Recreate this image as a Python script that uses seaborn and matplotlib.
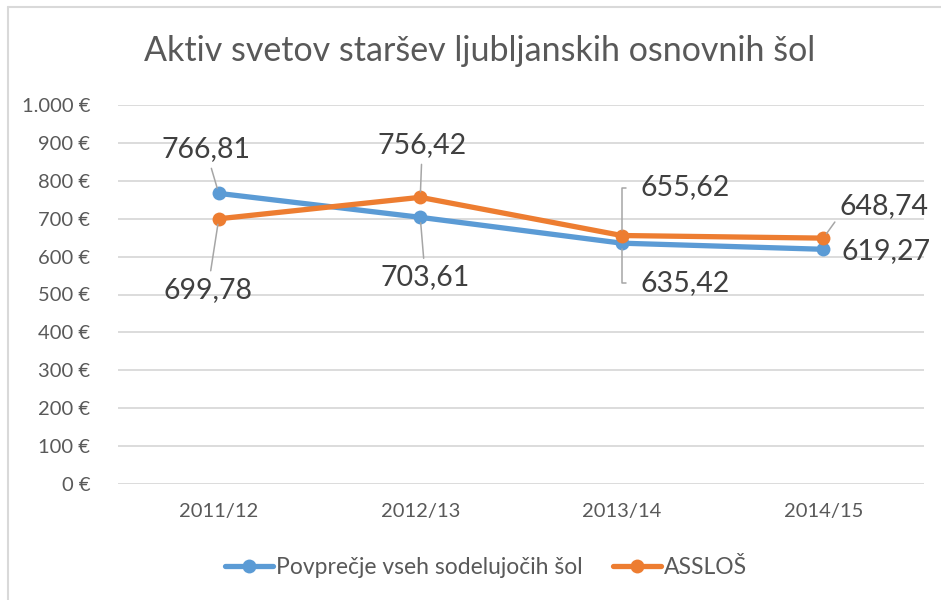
import pandas as pd
import numpy as np
import matplotlib.pyplot as plt
import seaborn as sns
from matplotlib.lines import Line2D

years = ['2011/12', '2012/13', '2013/14', '2014/15']
povprecje = [766.81, 703.61, 635.42, 619.27]
assl = [699.78, 756.42, 655.62, 648.74]
series_names = ['Povprečje vseh sodelujočih šol', 'ASSLOŠ']
y_ticks = [0, 100, 200, 300, 400, 500, 600, 700, 800, 900, 1000]

df = pd.DataFrame({
    'leto': years * 2,
    'vrednost': povprecje + assl,
    'serija': [series_names[0]] * 4 + [series_names[1]] * 4,
})
df['x'] = df['leto'].map({y: i for i, y in enumerate(years)})

sns.set_style('white')
plt.rcParams['font.family'] = ['Lato', 'DejaVu Sans']

blue = '#5b9bd5'
orange = '#ed7d31'
txt = '#595959'

fig = plt.figure(figsize=(9.41, 6), dpi=100)
ax = fig.add_axes([118 / 941, 1 - 484 / 600, (924 - 118) / 941, (484 - 105) / 600])

for name, col in zip(series_names, [blue, orange]):
    sub = df[df['serija'] == name]
    sns.lineplot(data=sub, x='x', y='vrednost', color=col, linewidth=3.8,
                 marker='o', markersize=10, markeredgewidth=0, ax=ax,
                 legend=False, zorder=3)

ax.set_xlim(-0.5, 3.5)
ax.set_ylim(0, 1000)
ax.set_yticks(y_ticks)
ax.set_yticklabels([f'{v:,} €'.replace(',', '.') for v in y_ticks], color=txt, fontsize=14.5)
ax.set_xticks(range(len(years)))
ax.set_xticklabels(years, color=txt, fontsize=14.5)
ax.tick_params(axis='y', length=0, pad=20)
ax.tick_params(axis='x', length=0, pad=14)
ax.grid(axis='y', color='#d9d9d9', linewidth=1.3)
ax.set_xlabel('')
ax.set_ylabel('')
for s in ax.spines.values():
    s.set_visible(False)

def fmt(v):
    return f'{v:.2f}'.replace('.', ',')

# label offsets (pixels) relative to the point
offs_blue = [(-13, 44), (5, -60), (63, -40), (63, -2)]
offs_orange = [(-11, -71), (2, 52), (63, 48), (61, 32)]
arrow = dict(arrowstyle='-', color='#a6a6a6', lw=1.1, shrinkA=2, shrinkB=4)

for i, (v, o) in enumerate(zip(povprecje, offs_blue)):
    ap = dict(arrow)
    if i == 2:
        ap.update(connectionstyle='angle,angleA=0,angleB=90,rad=0', relpos=(0, 0.5), shrinkA=8)
    ax.annotate(fmt(v), (i, v), xytext=o, textcoords='offset pixels', ha='center',
                va='center', fontsize=20.5, color='#404040',
                arrowprops=None if i == 3 else ap)

for i, (v, o) in enumerate(zip(assl, offs_orange)):
    ap = dict(arrow)
    if i == 2:
        ap.update(connectionstyle='angle,angleA=0,angleB=90,rad=0', relpos=(0, 0.5), shrinkA=8)
    if i == 3:
        ap.update(relpos=(0, 0.15))
    ax.annotate(fmt(v), (i, v), xytext=o, textcoords='offset pixels', ha='center',
                va='center', fontsize=20.5, color='#404040', arrowprops=ap)

fig.text(480 / 941, 1 - 51 / 600, 'Aktiv svetov staršev ljubljanskih osnovnih šol',
         ha='center', va='center', fontsize=24.5, color=txt)

handles = [Line2D([], [], color=c, lw=3.8, marker='o', markersize=10, markeredgewidth=0)
           for c in [blue, orange]]
fig.legend(handles, series_names, loc='center', bbox_to_anchor=(486 / 941, 1 - 568 / 600),
           ncol=2, frameon=False, fontsize=16.5, labelcolor=txt, handlelength=2.1,
           handletextpad=0.1, columnspacing=1.35)

fig.add_artist(Line2D([7.5 / 941, 7.5 / 941], [0, 1 - 6.5 / 600], color='#d9d9d9', lw=1.5))
fig.add_artist(Line2D([7.5 / 941, 1], [1 - 6.5 / 600, 1 - 6.5 / 600], color='#d9d9d9', lw=1.5))

fig.savefig('out.png', dpi=100)
